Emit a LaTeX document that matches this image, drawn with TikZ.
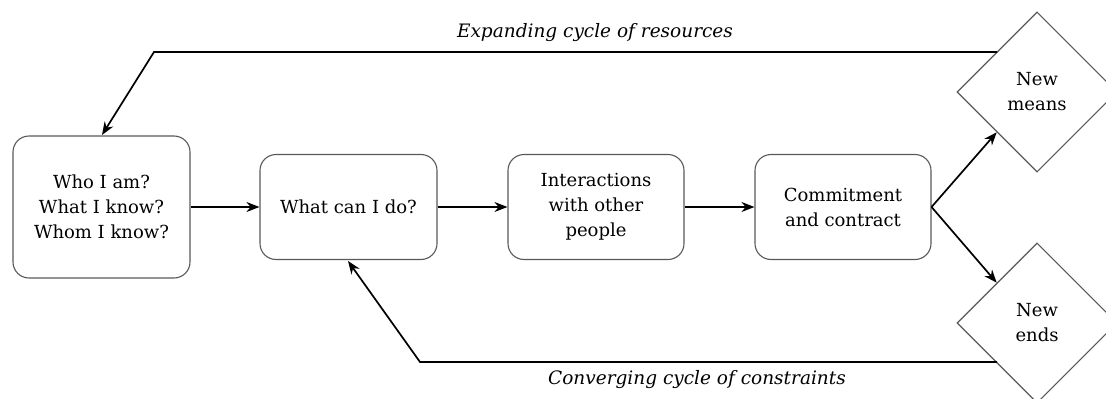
\documentclass[tikz,border=0pt]{standalone}
\usepackage{fontspec}
\setmainfont{DejaVu Serif}
\usetikzlibrary{shapes.geometric,arrows.meta}
\begin{document}
\begin{tikzpicture}[x=1pt,y=-1pt,
  box/.style={draw=black!65,line width=1.1pt,rounded corners=16pt,align=center,
    font=\fontsize{18}{25}\selectfont,inner sep=0pt},
  dia/.style={draw=black!65,line width=1.1pt,diamond,minimum width=160pt,minimum height=160pt,
    align=center,font=\fontsize{18}{25}\selectfont,inner sep=0pt},
  arr/.style={line width=1.7pt,-{Stealth[length=13pt,width=10pt]}},
  lab/.style={font=\itshape\fontsize{18.5}{22}\selectfont}]
\useasboundingbox (0,0) rectangle (1106,399);
\node[box,minimum width=177pt,minimum height=142pt] (b1) at (101.5,207) {Who I am?\\What I know?\\Whom I know?};
\node[box,minimum width=177pt,minimum height=105pt] (b2) at (348.5,207) {What can I do?};
\node[box,minimum width=176pt,minimum height=105pt] (b3) at (596,207) {Interactions\\with other\\people};
\node[box,minimum width=176pt,minimum height=105pt] (b4) at (843,207) {Commitment\\and contract};
\node[dia] (m) at (1037,92) {New\\means};
\node[dia] (e) at (1037,323) {New\\ends};
\draw[arr] (b1.east) -- (b2.west);
\draw[arr] (b2.east) -- (b3.west);
\draw[arr] (b3.east) -- (b4.west);
\coordinate (f) at (b4.east);
\draw[arr] (f) -- (m.south west);
\draw[arr] (f) -- (e.north west);
\coordinate (t1) at (154,52);
\coordinate (t0) at (997,52);
\draw[arr] (t0) -- (t1) -- (102,135);
\coordinate (u0) at (997,362);
\coordinate (u1) at (420,362);
\draw[arr] (u0) -- (u1) -- (348,261);
\node[lab] (l1) at (595,33) {Expanding cycle of resources};
\node[lab] (l2) at (697,380) {Converging cycle of constraints};
\end{tikzpicture}
\end{document}
